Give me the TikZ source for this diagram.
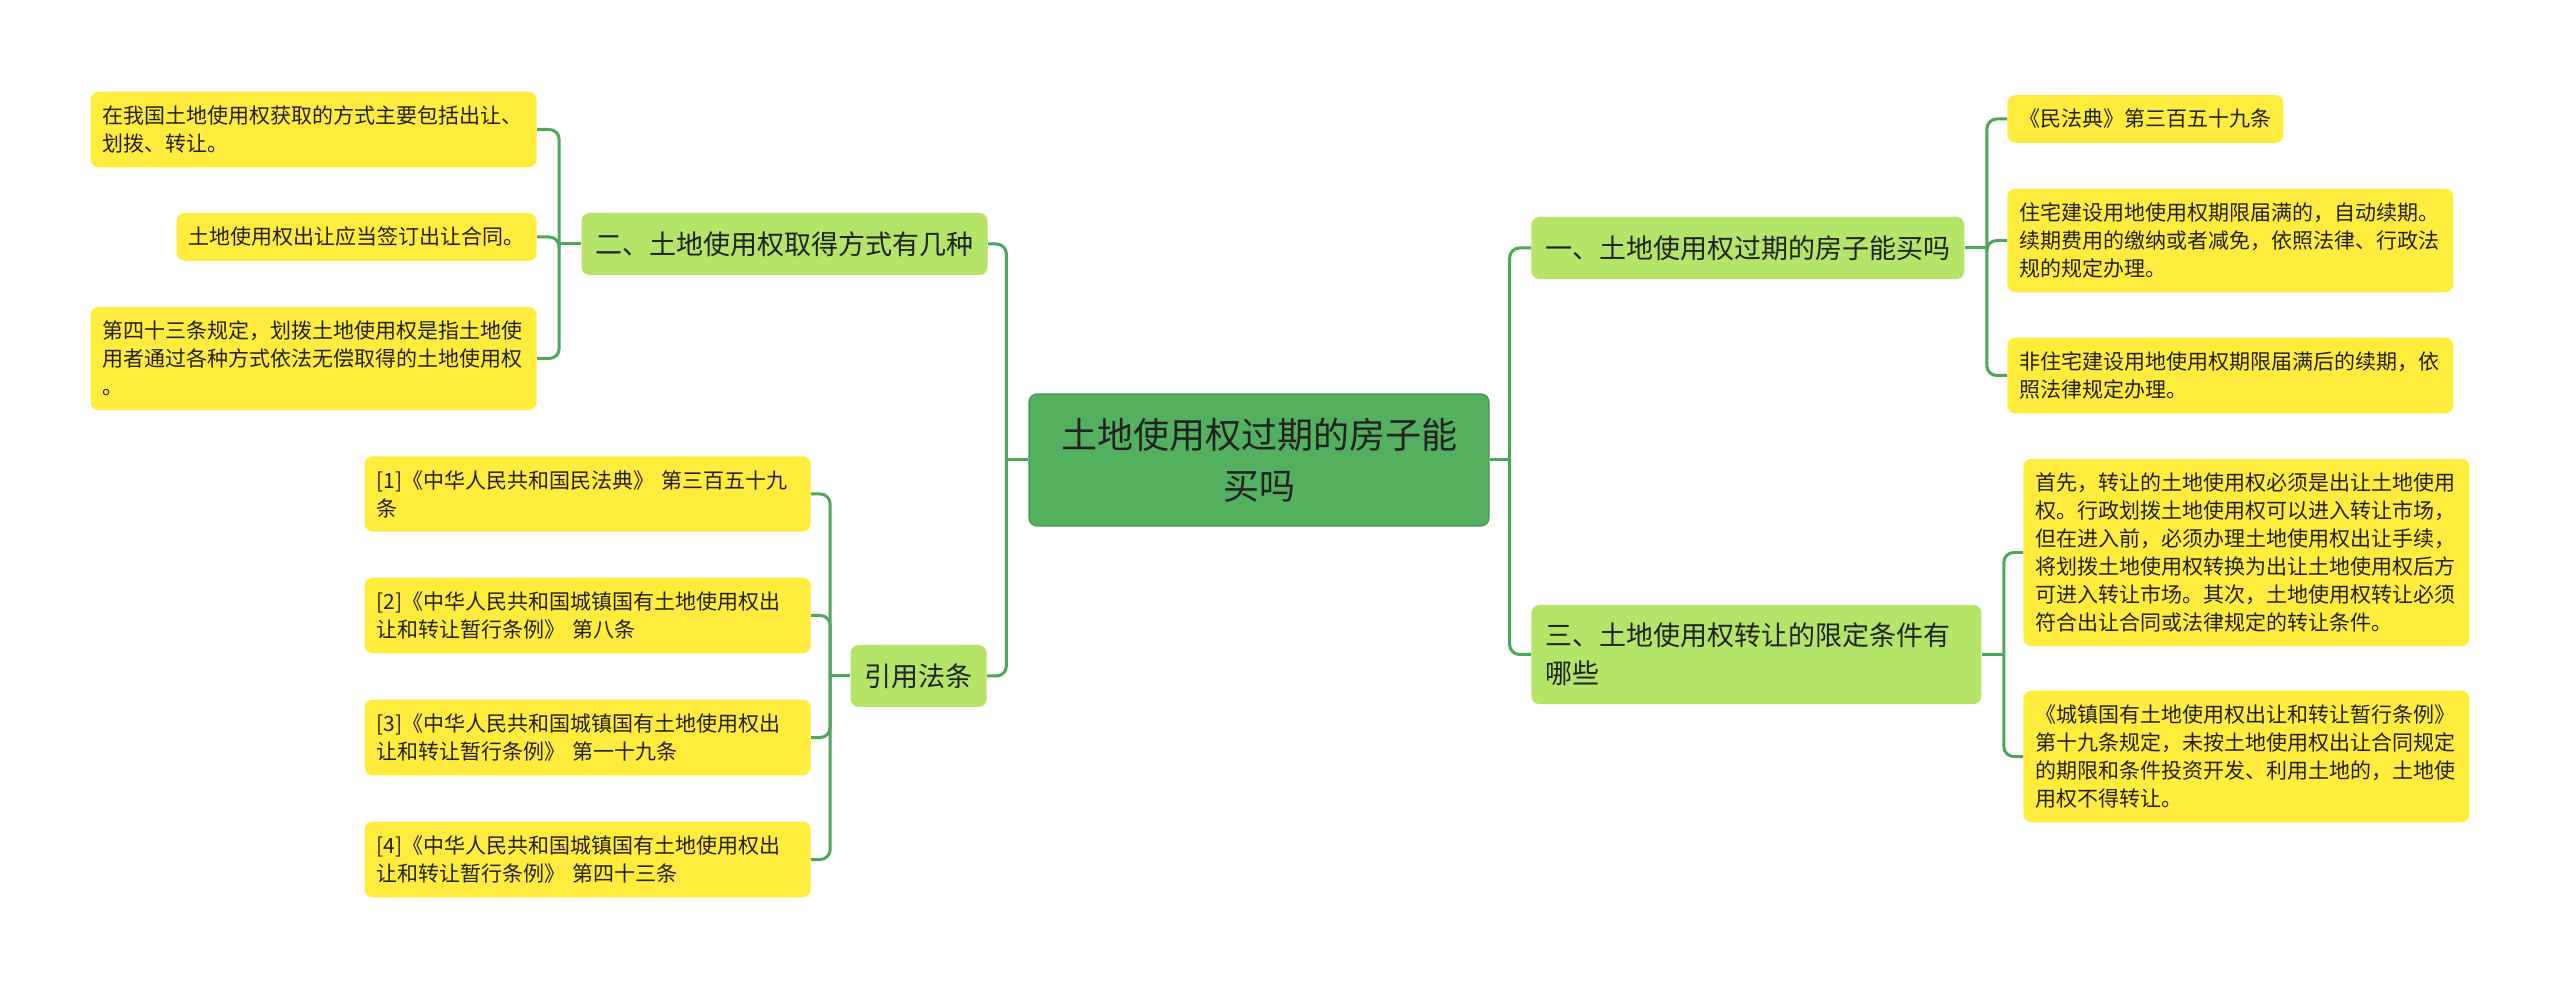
\documentclass[tikz,border=0pt]{standalone}
\usepackage{fontspec}
\newfontfamily\cjk{Noto Sans CJK SC}
\usepackage{tikz}
\usetikzlibrary{positioning}
\definecolor{rootgreen}{RGB}{82,176,94}
\definecolor{topicgreen}{RGB}{180,228,104}
\definecolor{leafyellow}{RGB}{255,236,61}
\definecolor{linkgreen}{RGB}{76,168,88}
\definecolor{inkdark}{RGB}{34,34,34}

\begin{document}
\begin{tikzpicture}[x=0.5pt,y=-0.5pt,
  rootnode/.style={fill=rootgreen, draw=rootgreen!85!black, line width=0.6pt, rounded corners=4pt, font=\cjk\fontsize{18}{25.5}\selectfont, text=inkdark, align=center, text width=206pt, inner xsep=12pt, minimum height=66pt},
  topicnode/.style={fill=topicgreen, rounded corners=4pt, font=\cjk\fontsize{13.5}{19}\selectfont, text=inkdark, align=left, inner xsep=7pt, inner ysep=9pt, minimum height=31pt},
  leafnode/.style={fill=leafyellow, rounded corners=4pt, font=\cjk\fontsize{10.5}{14}\selectfont, text=inkdark, align=left, inner xsep=6pt, inner ysep=7pt},
  link/.style={draw=linkgreen, line width=1.5pt, rounded corners=5pt}]
\fill[white] (0,0) rectangle (2560,988);
\useasboundingbox (0,0) rectangle (2560,988);
% Center: main question
\node[rootnode] (root) at (1259,460) {土地使用权过期的房子能\\买吗};
% Topics
\node[topicnode, anchor=west] (t1) at (1531,248) {一、土地使用权过期的房子能买吗};
\node[topicnode, anchor=west, text width=211pt] (t3) at (1531,654.5) {三、土地使用权转让的限定条件有\\哪些};
\node[topicnode, anchor=east] (t2) at (988,244) {二、土地使用权取得方式有几种};
\node[topicnode, anchor=east] (t4) at (987,676) {引用法条};
% Leaves of topic one
\node[leafnode, anchor=west] (t1a) at (2007,119) {《民法典》第三百五十九条};
\node[leafnode, anchor=west, text width=211pt] (t1b) at (2007,240.5) {住宅建设用地使用权期限届满的，自动续期。\\续期费用的缴纳或者减免，依照法律、行政法\\规的规定办理。};
\node[leafnode, anchor=west, text width=211pt] (t1c) at (2007,375.5) {非住宅建设用地使用权期限届满后的续期，依\\照法律规定办理。};
% Leaves of topic three
\node[leafnode, anchor=west, text width=211pt] (t3a) at (2023,552.5) {首先，转让的土地使用权必须是出让土地使用\\权。行政划拨土地使用权可以进入转让市场，\\但在进入前，必须办理土地使用权出让手续，\\将划拨土地使用权转换为出让土地使用权后方\\可进入转让市场。其次，土地使用权转让必须\\符合出让合同或法律规定的转让条件。};
\node[leafnode, anchor=west, text width=211pt] (t3b) at (2023,756.5) {《城镇国有土地使用权出让和转让暂行条例》\\第十九条规定，未按土地使用权出让合同规定\\的期限和条件投资开发、利用土地的，土地使\\用权不得转让。};
% Leaves of topic two
\node[leafnode, anchor=east, text width=211pt] (t2a) at (537,129.5) {在我国土地使用权获取的方式主要包括出让、\\划拨、转让。};
\node[leafnode, anchor=east] (t2b) at (537,237) {土地使用权出让应当签订出让合同。};
\node[leafnode, anchor=east, text width=211pt] (t2c) at (537,358.5) {第四十三条规定，划拨土地使用权是指土地使\\用者通过各种方式依法无偿取得的土地使用权\\。};
% Cited laws
\node[leafnode, anchor=east, text width=211pt] (t4a) at (811,494) {[1]《中华人民共和国民法典》 第三百五十九\\条};
\node[leafnode, anchor=east, text width=211pt] (t4b) at (811,615.5) {[2]《中华人民共和国城镇国有土地使用权出\\让和转让暂行条例》 第八条};
\node[leafnode, anchor=east, text width=211pt] (t4c) at (811,737.5) {[3]《中华人民共和国城镇国有土地使用权出\\让和转让暂行条例》 第一十九条};
\node[leafnode, anchor=east, text width=211pt] (t4d) at (811,859.5) {[4]《中华人民共和国城镇国有土地使用权出\\让和转让暂行条例》 第四十三条};
% Junctions
\coordinate (rj) at ([xshift=10pt]root.east);
\coordinate (lj) at ([xshift=-11pt]root.west);
\coordinate (j1) at ([xshift=11pt]t1.east);
\coordinate (j3) at ([xshift=11pt]t3.east);
\coordinate (j2) at ([xshift=-11pt]t2.west);
\coordinate (j4) at ([xshift=-10pt]t4.west);
% Links
\draw[link] (root.east) -- (rj);
\draw[link] (rj) |- (t1.west);
\draw[link] (rj) |- (t3.west);
\draw[link] (root.west) -- (lj);
\draw[link] (lj) |- (t2.east);
\draw[link] (lj) |- (t4.east);
\draw[link] (t1.east) -- (j1);
\foreach \leaf in {t1a,t1b,t1c} \draw[link] (j1) |- (\leaf.west);
\draw[link] (t3.east) -- (j3);
\foreach \leaf in {t3a,t3b} \draw[link] (j3) |- (\leaf.west);
\draw[link] (t2.west) -- (j2);
\foreach \leaf in {t2a,t2b,t2c} \draw[link] (j2) |- (\leaf.east);
\draw[link] (t4.west) -- (j4);
\foreach \leaf in {t4a,t4b,t4c,t4d} \draw[link] (j4) |- (\leaf.east);
\end{tikzpicture}
\end{document}
